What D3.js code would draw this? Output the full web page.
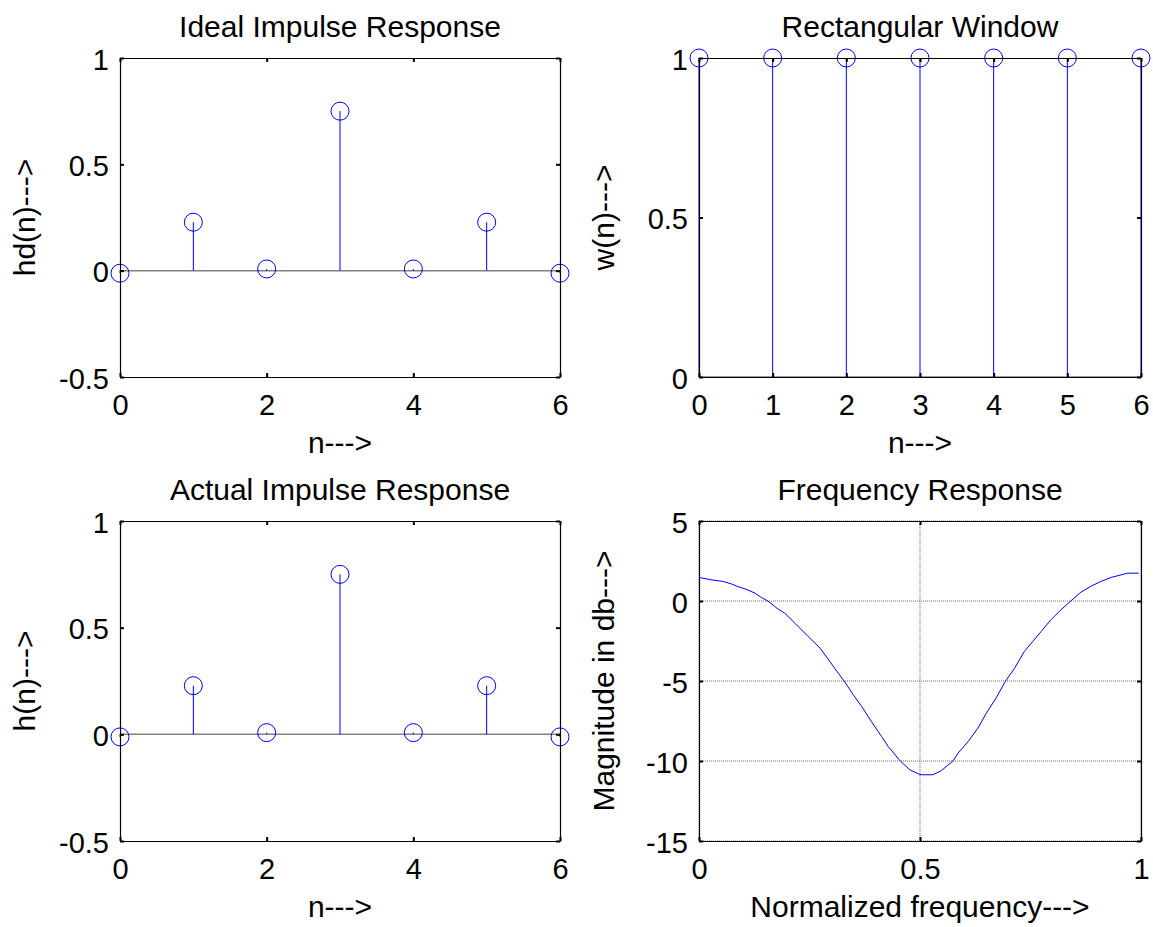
<!DOCTYPE html>
<html>
<head>
<meta charset="utf-8">
<script src="https://cdnjs.cloudflare.com/ajax/libs/d3/7.8.5/d3.min.js"></script>
<style>
  body { margin: 0; background: #fff; }
  text { font-family: 'Liberation Sans', Arial, sans-serif; fill: #000; }
</style>
</head>
<body>
<script>
// data
const n = [0, 1, 2, 3, 4, 5, 6];
const hd = [-0.012, 0.228, 0.008, 0.75, 0.008, 0.228, -0.012];
const w = [1, 1, 1, 1, 1, 1, 1];
const h = [-0.012, 0.228, 0.008, 0.75, 0.008, 0.228, -0.012];

const freq = [0, 0.029, 0.055, 0.073, 0.088, 0.104, 0.127, 0.141, 0.156, 0.179, 0.194, 0.217,
  0.247, 0.274, 0.296, 0.315, 0.330, 0.349, 0.368, 0.390, 0.413, 0.428, 0.455, 0.477, 0.496,
  0.503, 0.529, 0.548, 0.575, 0.586, 0.609, 0.631, 0.650, 0.672, 0.693, 0.714, 0.736, 0.755,
  0.774, 0.796, 0.819, 0.841, 0.864, 0.886, 0.909, 0.932, 0.970, 0.995];
const magDb = [1.47, 1.32, 1.22, 1.07, 0.9, 0.76, 0.49, 0.22, 0.0, -0.51, -0.76, -1.39,
  -2.22, -2.95, -3.78, -4.51, -5.07, -5.86, -6.59, -7.53, -8.47, -9.09, -9.99, -10.55, -10.8,
  -10.86, -10.86, -10.61, -9.99, -9.51, -8.78, -7.95, -7.01, -6.07, -5.03, -4.2, -3.16, -2.53,
  -1.91, -1.18, -0.55, 0.0, 0.55, 0.91, 1.22, 1.47, 1.74, 1.74];

// tick labels
const stemXTicks = [0, 2, 4, 6];
const winXTicks = [0, 1, 2, 3, 4, 5, 6];
const stemYTicks = [-0.5, 0, 0.5, 1];
const winYTicks = [0, 0.5, 1];
const freqXTicks = [0, 0.5, 1];
const freqYTicks = [-15, -10, -5, 0, 5];

const tickFont = 29;
const labelFont = 30;
const blue = '#0000ff';

const svg = d3.select('body')
    .append('svg')
    .attr('width', 1153)
    .attr('height', 927);

// draws one axes box
const panel = (p) => {
    const x = d3.scaleLinear().domain(p.xDomain).range([p.left, p.right]);
    const y = d3.scaleLinear().domain(p.yDomain).range([p.bottom, p.top]);
    const g = svg.append('g');

    // grid
    if (p.grid) {
        g.selectAll('.gx').data(p.xTicks).enter().append('line')
            .attr('x1', d => x(d)).attr('x2', d => x(d))
            .attr('y1', p.top).attr('y2', p.bottom)
            .attr('stroke', '#666').attr('stroke-dasharray', '1,1');
        g.selectAll('.gy').data(p.yTicks).enter().append('line')
            .attr('x1', p.left).attr('x2', p.right)
            .attr('y1', d => y(d)).attr('y2', d => y(d))
            .attr('stroke', '#666').attr('stroke-dasharray', '1,1');
    }

    p.draw(g, x, y);

    // axes, ticks inside, mirrored on top / right
    const axes = [
        [d3.axisBottom(x), `translate(0,${p.bottom})`, true],
        [d3.axisLeft(y), `translate(${p.left},0)`, true],
        [d3.axisTop(x), `translate(0,${p.top})`, false],
        [d3.axisRight(y), `translate(${p.right},0)`, false]
    ];
    axes.forEach(([ax, tr, labels], i) => {
        ax.tickValues(i % 2 == 0 ? p.xTicks : p.yTicks)
            .tickSizeInner(-4)
            .tickSizeOuter(0)
            .tickPadding(i == 0 ? 17 : 11)
            .tickFormat(labels ? (d => String(d)) : '');
        const a = g.append('g').attr('transform', tr).call(ax);
        a.attr('font-family', null).attr('font-size', null);
        a.select('.domain').attr('stroke', '#000').attr('stroke-width', 1.2);
        a.selectAll('.tick line').attr('stroke', '#000').attr('stroke-width', 2);
        a.selectAll('text').style('font-size', tickFont + 'px');
        if (i == 1) a.selectAll('text').attr('dy', '0.38em');
    });

    // title and labels
    svg.append('text')
        .attr('x', (p.left + p.right) / 2)
        .attr('y', p.top - 21)
        .attr('text-anchor', 'middle')
        .style('font-size', labelFont + 'px')
        .text(p.title);
    svg.append('text')
        .attr('x', (p.left + p.right) / 2)
        .attr('y', p.bottom + 76)
        .attr('text-anchor', 'middle')
        .style('font-size', labelFont + 'px')
        .text(p.xLabel);
    svg.append('text')
        .attr('transform', `translate(${p.left - 85},${(p.top + p.bottom) / 2}) rotate(-90)`)
        .attr('text-anchor', 'middle')
        .style('font-size', labelFont + 'px')
        .text(p.yLabel);
};

// stem plot with baseline
const stems = (vals) => (g, x, y) => {
    g.append('line')
        .attr('x1', x.range()[0]).attr('x2', x.range()[1])
        .attr('y1', y(0)).attr('y2', y(0))
        .attr('stroke', '#808080').attr('stroke-width', 1.5);
    g.selectAll('.stem').data(n).enter().append('line')
        .attr('x1', d => x(d)).attr('x2', d => x(d))
        .attr('y1', y(0)).attr('y2', (d, i) => y(vals[i]))
        .attr('stroke', blue).attr('stroke-width', 1);
    g.selectAll('.mark').data(n).enter().append('circle')
        .attr('cx', d => x(d)).attr('cy', (d, i) => y(vals[i]))
        .attr('r', 9)
        .attr('fill', 'none').attr('stroke', blue).attr('stroke-width', 1);
};

panel({
    left: 120, right: 560, top: 58, bottom: 377,
    xDomain: [0, 6], yDomain: [-0.5, 1], xTicks: stemXTicks, yTicks: stemYTicks,
    title: 'Ideal Impulse Response', xLabel: 'n--->', yLabel: 'hd(n)--->',
    draw: stems(hd)
});

panel({
    left: 699, right: 1141, top: 58, bottom: 377,
    xDomain: [0, 6], yDomain: [0, 1], xTicks: winXTicks, yTicks: winYTicks,
    title: 'Rectangular Window', xLabel: 'n--->', yLabel: 'w(n)--->',
    draw: stems(w)
});

panel({
    left: 120, right: 560, top: 521, bottom: 841,
    xDomain: [0, 6], yDomain: [-0.5, 1], xTicks: stemXTicks, yTicks: stemYTicks,
    title: 'Actual Impulse Response', xLabel: 'n--->', yLabel: 'h(n)--->',
    draw: stems(h)
});

panel({
    left: 699, right: 1141, top: 521, bottom: 841,
    xDomain: [0, 1], yDomain: [-15, 5], xTicks: freqXTicks, yTicks: freqYTicks,
    title: 'Frequency Response', xLabel: 'Normalized frequency--->', yLabel: 'Magnitude in db--->',
    grid: true,
    draw: (g, x, y) => {
        const line = d3.line()
            .x((d, i) => x(freq[i]))
            .y(d => y(d));
        g.append('path')
            .datum(magDb)
            .attr('d', line)
            .attr('fill', 'none')
            .attr('stroke', blue)
            .attr('stroke-width', 1);
    }
});
</script>
</body>
</html>
